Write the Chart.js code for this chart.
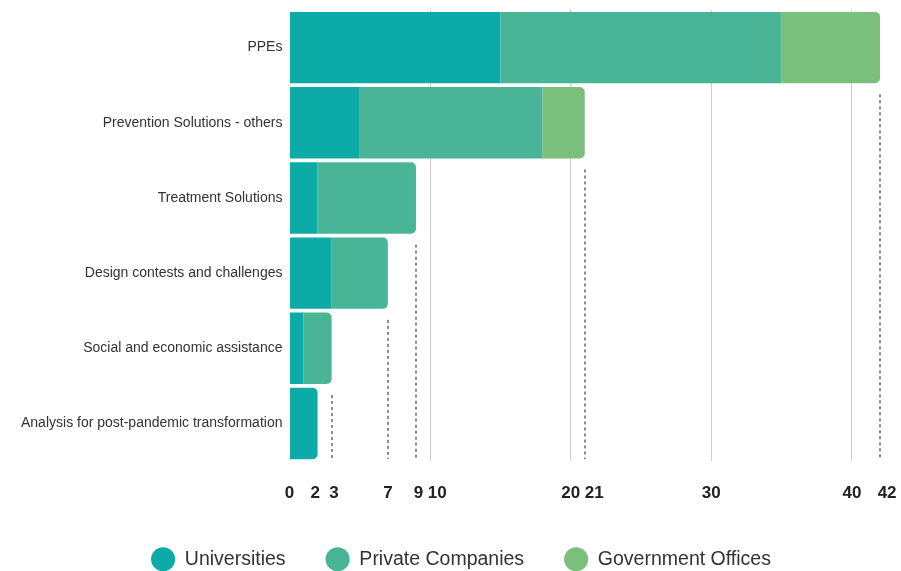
<!DOCTYPE html>
<html>
<head>
<meta charset="utf-8">
<script src="https://cdn.jsdelivr.net/npm/chart.js@4"></script>
<style>
  html, body { margin: 0; padding: 0; background: #fff; overflow: hidden; }
  #wrap { width: 901px; height: 571px; position: relative; }
</style>
</head>
<body>
<div id="wrap"><canvas id="chart"></canvas></div>
<script>
// challenge categories, one bar each
const categories = [
  "PPEs",
  "Prevention Solutions - others",
  "Treatment Solutions",
  "Design contests and challenges",
  "Social and economic assistance",
  "Analysis for post-pandemic transformation"
];

// counts per type of organiser
const universities = [15, 5, 2, 3, 1, 2];
const privateCompanies = [20, 13, 7, 4, 2, 0];
const governmentOffices = [7, 3, 0, 0, 0, 0];

// x axis: solid grid at the round numbers, labels also at each bar total
const tickValues = [0, 2, 3, 7, 9, 10, 20, 21, 30, 40, 42];
const gridValues = [10, 20, 30, 40];

const totals = categories.map((_, i) => universities[i] + privateCompanies[i] + governmentOffices[i]);

// nudge crowded labels apart (number of padding spaces, +right / -left)
const labelNudge = { 2: -1, 3: 1, 9: 1, 10: 3, 21: 4, 42: 3 };

function nudged(v) {
  const n = labelNudge[v] || 0;
  const pad = " ".repeat(Math.abs(n));
  return n > 0 ? pad + v : String(v) + pad;
}

// dotted marker under each bar, at its total
const totalLines = {
  id: "totalLines",
  afterLayout(chart) {
    // legend row sits a little right of centre
    chart.legend.left += 14;
    chart.legend.right += 14;
  },
  beforeDatasetsDraw(chart) {
    const { ctx, chartArea, scales: { x } } = chart;
    const meta = chart.getDatasetMeta(0);
    ctx.save();
    ctx.strokeStyle = "#8c8c8c";
    ctx.lineWidth = 2;
    ctx.setLineDash([3, 3]);
    totals.forEach((total, i) => {
      const bar = meta.data[i];
      const top = bar.y + bar.height / 2 + 11;
      const bottom = chartArea.bottom - 2;
      if (top >= bottom) return;
      const px = Math.round(x.getPixelForValue(total));
      ctx.beginPath();
      ctx.moveTo(px, top);
      ctx.lineTo(px, bottom);
      ctx.stroke();
    });
    ctx.restore();
  }
};

const font = "Arial, 'Liberation Sans', sans-serif";

new Chart(document.getElementById("chart"), {
  type: "bar",
  data: {
    labels: categories,
    datasets: [
      { label: "Universities", data: universities, backgroundColor: "#0caba8" },
      { label: "Private Companies", data: privateCompanies, backgroundColor: "#4ab596" },
      { label: "Government Offices", data: governmentOffices, backgroundColor: "#7bbf7c" }
    ]
  },
  options: {
    indexAxis: "y",
    responsive: true,
    maintainAspectRatio: false,
    animation: false,
    layout: { padding: { top: 10, left: 14, right: 21, bottom: -8 } },
    datasets: {
      bar: {
        categoryPercentage: 1,
        barPercentage: 0.95,
        borderWidth: 0,
        borderRadius: 5,
        borderSkipped: "start"
      }
    },
    plugins: {
      tooltip: { enabled: false },
      legend: {
        position: "bottom",
        labels: {
          usePointStyle: true,
          pointStyle: "circle",
          pointStyleWidth: 24,
          boxHeight: 17,
          padding: 40,
          color: "#333",
          font: { family: font, size: 19.5 }
        }
      }
    },
    scales: {
      x: {
        stacked: true,
        min: 0,
        max: 42,
        afterBuildTicks: (axis) => {
          axis.ticks = tickValues.map(v => ({ value: v }));
        },
        afterFit: (axis) => {
          axis.height -= 16;
          axis.paddingRight = 0;
        },
        border: { display: false },
        grid: {
          drawTicks: false,
          color: (c) => (c.tick && gridValues.includes(c.tick.value)) ? "#cccccc" : "rgba(0,0,0,0)",
          lineWidth: 1
        },
        ticks: {
          autoSkip: false,
          maxRotation: 0,
          padding: 22,
          color: "#222",
          font: { family: font, size: 17, weight: "bold" },
          callback: (v) => nudged(v)
        }
      },
      y: {
        stacked: true,
        afterFit: (axis) => {
          axis.paddingTop = 0;
          axis.paddingBottom = 0;
        },
        border: { display: false },
        grid: { display: false, drawTicks: false },
        ticks: {
          padding: 7,
          color: "#333",
          font: { family: font, size: 14 }
        }
      }
    }
  },
  plugins: [totalLines]
});
</script>
</body>
</html>
